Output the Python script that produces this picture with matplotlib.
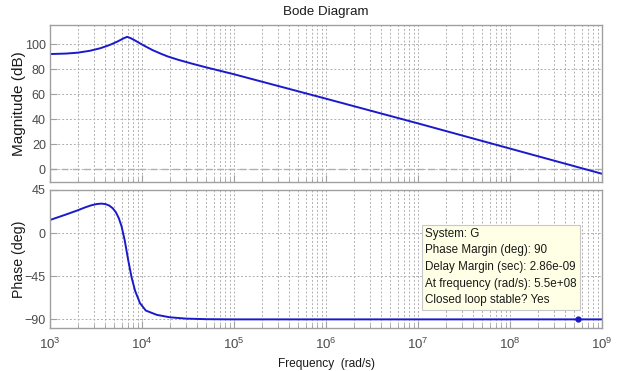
import matplotlib
matplotlib.use("Agg")
import matplotlib.pyplot as plt
from matplotlib.ticker import LogLocator, NullFormatter, FixedLocator

plt.rcParams['font.family'] = ['Liberation Sans', 'DejaVu Sans']
plt.rcParams['mathtext.fontset'] = 'custom'
plt.rcParams['mathtext.rm'] = 'Liberation Sans'
plt.rcParams['mathtext.it'] = 'Liberation Sans'

# Magnitude data (rad/s, dB)
mag_freq = [1e3, 1.5e3, 2e3, 2.7e3, 3.5e3, 4.2e3, 4.7e3, 5.5e3, 6.3e3, 6.9e3,
            7.5e3, 8.3e3, 9.5e3, 1.1e4, 1.3e4, 1.6e4, 1.9e4, 2.5e4, 3.5e4,
            5e4, 1e5, 1e6, 1e7, 1e8, 1e9]
mag_db = [92.2, 92.6, 93.3, 94.8, 96.8, 98.8, 100.2, 102.5, 104.8, 106.0,
          105.0, 103.3, 100.8, 98.2, 95.4, 92.5, 90.3, 87.5, 84.5,
          81.5, 76.0, 56.4, 36.6, 16.4, -3.8]

# Phase data (rad/s, deg)
ph_freq = [1e3, 1.5e3, 2e3, 2.4e3, 2.8e3, 3.2e3, 3.6e3, 4.0e3, 4.4e3, 4.8e3,
           5.2e3, 5.6e3, 6e3, 6.5e3, 7.1e3, 7.7e3, 8.4e3, 9.5e3, 1.1e4,
           1.45e4, 2e4, 3e4, 5e4, 1e5, 1e6, 1e7, 1e8, 1e9]
ph_deg = [13.7, 19.5, 23.8, 26.8, 29.0, 30.3, 30.8, 30.3, 28.8, 26.0,
          21.8, 15.5, 7.0, -8.0, -28.8, -46.0, -60.0, -73.0, -80.8,
          -85.3, -87.8, -89.2, -89.8, -90.0, -90.0, -90.0, -90.0, -90.0]

pm_freq = [5.5e8]
pm_phase = [-90.0]
tip_lines = ["System: G", "Phase Margin (deg): 90", "Delay Margin (sec): 2.86e-09",
             "At frequency (rad/s): 5.5e+08", "Closed loop stable? Yes"]

mag_ticks = [0, 20, 40, 60, 80, 100]
ph_ticks = [-90, -45, 0, 45]
x_ticks = [1e3, 1e4, 1e5, 1e6, 1e7, 1e8, 1e9]

line_color = '#1a1acc'
frame_color = '#a0a0a0'
tick_color = '#4a4a4a'
grid_color = '#b0b0b0'
text_color = '#1a1a1a'

fig = plt.figure(figsize=(6.17, 3.71), dpi=100)
ax1 = fig.add_axes([50/617, 1-182/371, 552/617, 157/371])
ax2 = fig.add_axes([50/617, 1-328/371, 552/617, 138/371])

for ax in (ax1, ax2):
    ax.set_xscale('log')
    ax.set_xlim(1e3, 1e9)
    ax.xaxis.set_major_locator(FixedLocator(x_ticks))
    ax.xaxis.set_minor_locator(LogLocator(base=10, subs=range(2, 10), numticks=50))
    ax.xaxis.set_minor_formatter(NullFormatter())
    ax.grid(True, which='major', axis='both', color=grid_color, linestyle=(0, (2, 2)), linewidth=0.7)
    ax.grid(True, which='minor', axis='x', color=grid_color, linestyle=(0, (2, 2)), linewidth=0.7)
    for sp in ax.spines.values():
        sp.set_color(frame_color)
        sp.set_linewidth(1.0)
    ax.tick_params(which='both', direction='in', colors=frame_color, labelcolor=tick_color,
                   labelsize=9, top=False, right=False)
    ax.tick_params(which='major', length=5)
    ax.tick_params(which='minor', length=3)
    ax.tick_params(axis='y', pad=3)

ax1.plot(mag_freq, mag_db, color=line_color, linewidth=1.4)
ax1.axhline(0, color=grid_color, linestyle=(0, (5, 3)), linewidth=1.0, zorder=1)
ax1.set_ylim(-10.4, 115.5)
ax1.set_yticks(mag_ticks)
ax1.tick_params(axis='x', labelbottom=False)
ax1.set_ylabel('Magnitude (dB)', fontsize=11, color=text_color)
ax1.yaxis.set_label_coords(-24/552, 0.5)
ax1.set_title('Bode Diagram', fontsize=9.6, color=text_color, pad=7)

ax2.plot(ph_freq, ph_deg, color=line_color, linewidth=1.4)
ax2.plot(pm_freq, pm_phase, 'o', color=line_color, markersize=3.5)
ax2.set_ylim(-99, 45)
ax2.set_yticks(ph_ticks)
ax2.set_xticklabels([r'$10^{%d}$' % k for k in range(3, 10)])
ax2.tick_params(axis='x', labelsize=9.5, pad=6)
ax2.set_ylabel('Phase (deg)', fontsize=10.2, color=text_color)
ax2.yaxis.set_label_coords(-24/552, 0.5)
ax2.set_xlabel('Frequency  (rad/s)', fontsize=8.6, color=text_color, labelpad=5)

ax2.text(375/552, 100/138, "\n".join(tip_lines), transform=ax2.transAxes, fontsize=8.4,
         color=text_color, va='top', ha='left', linespacing=1.5,
         bbox=dict(boxstyle='square,pad=0.3', facecolor='#ffffe6', edgecolor='#c8c8c8', linewidth=0.8))

fig.savefig('out.png', dpi=100)
